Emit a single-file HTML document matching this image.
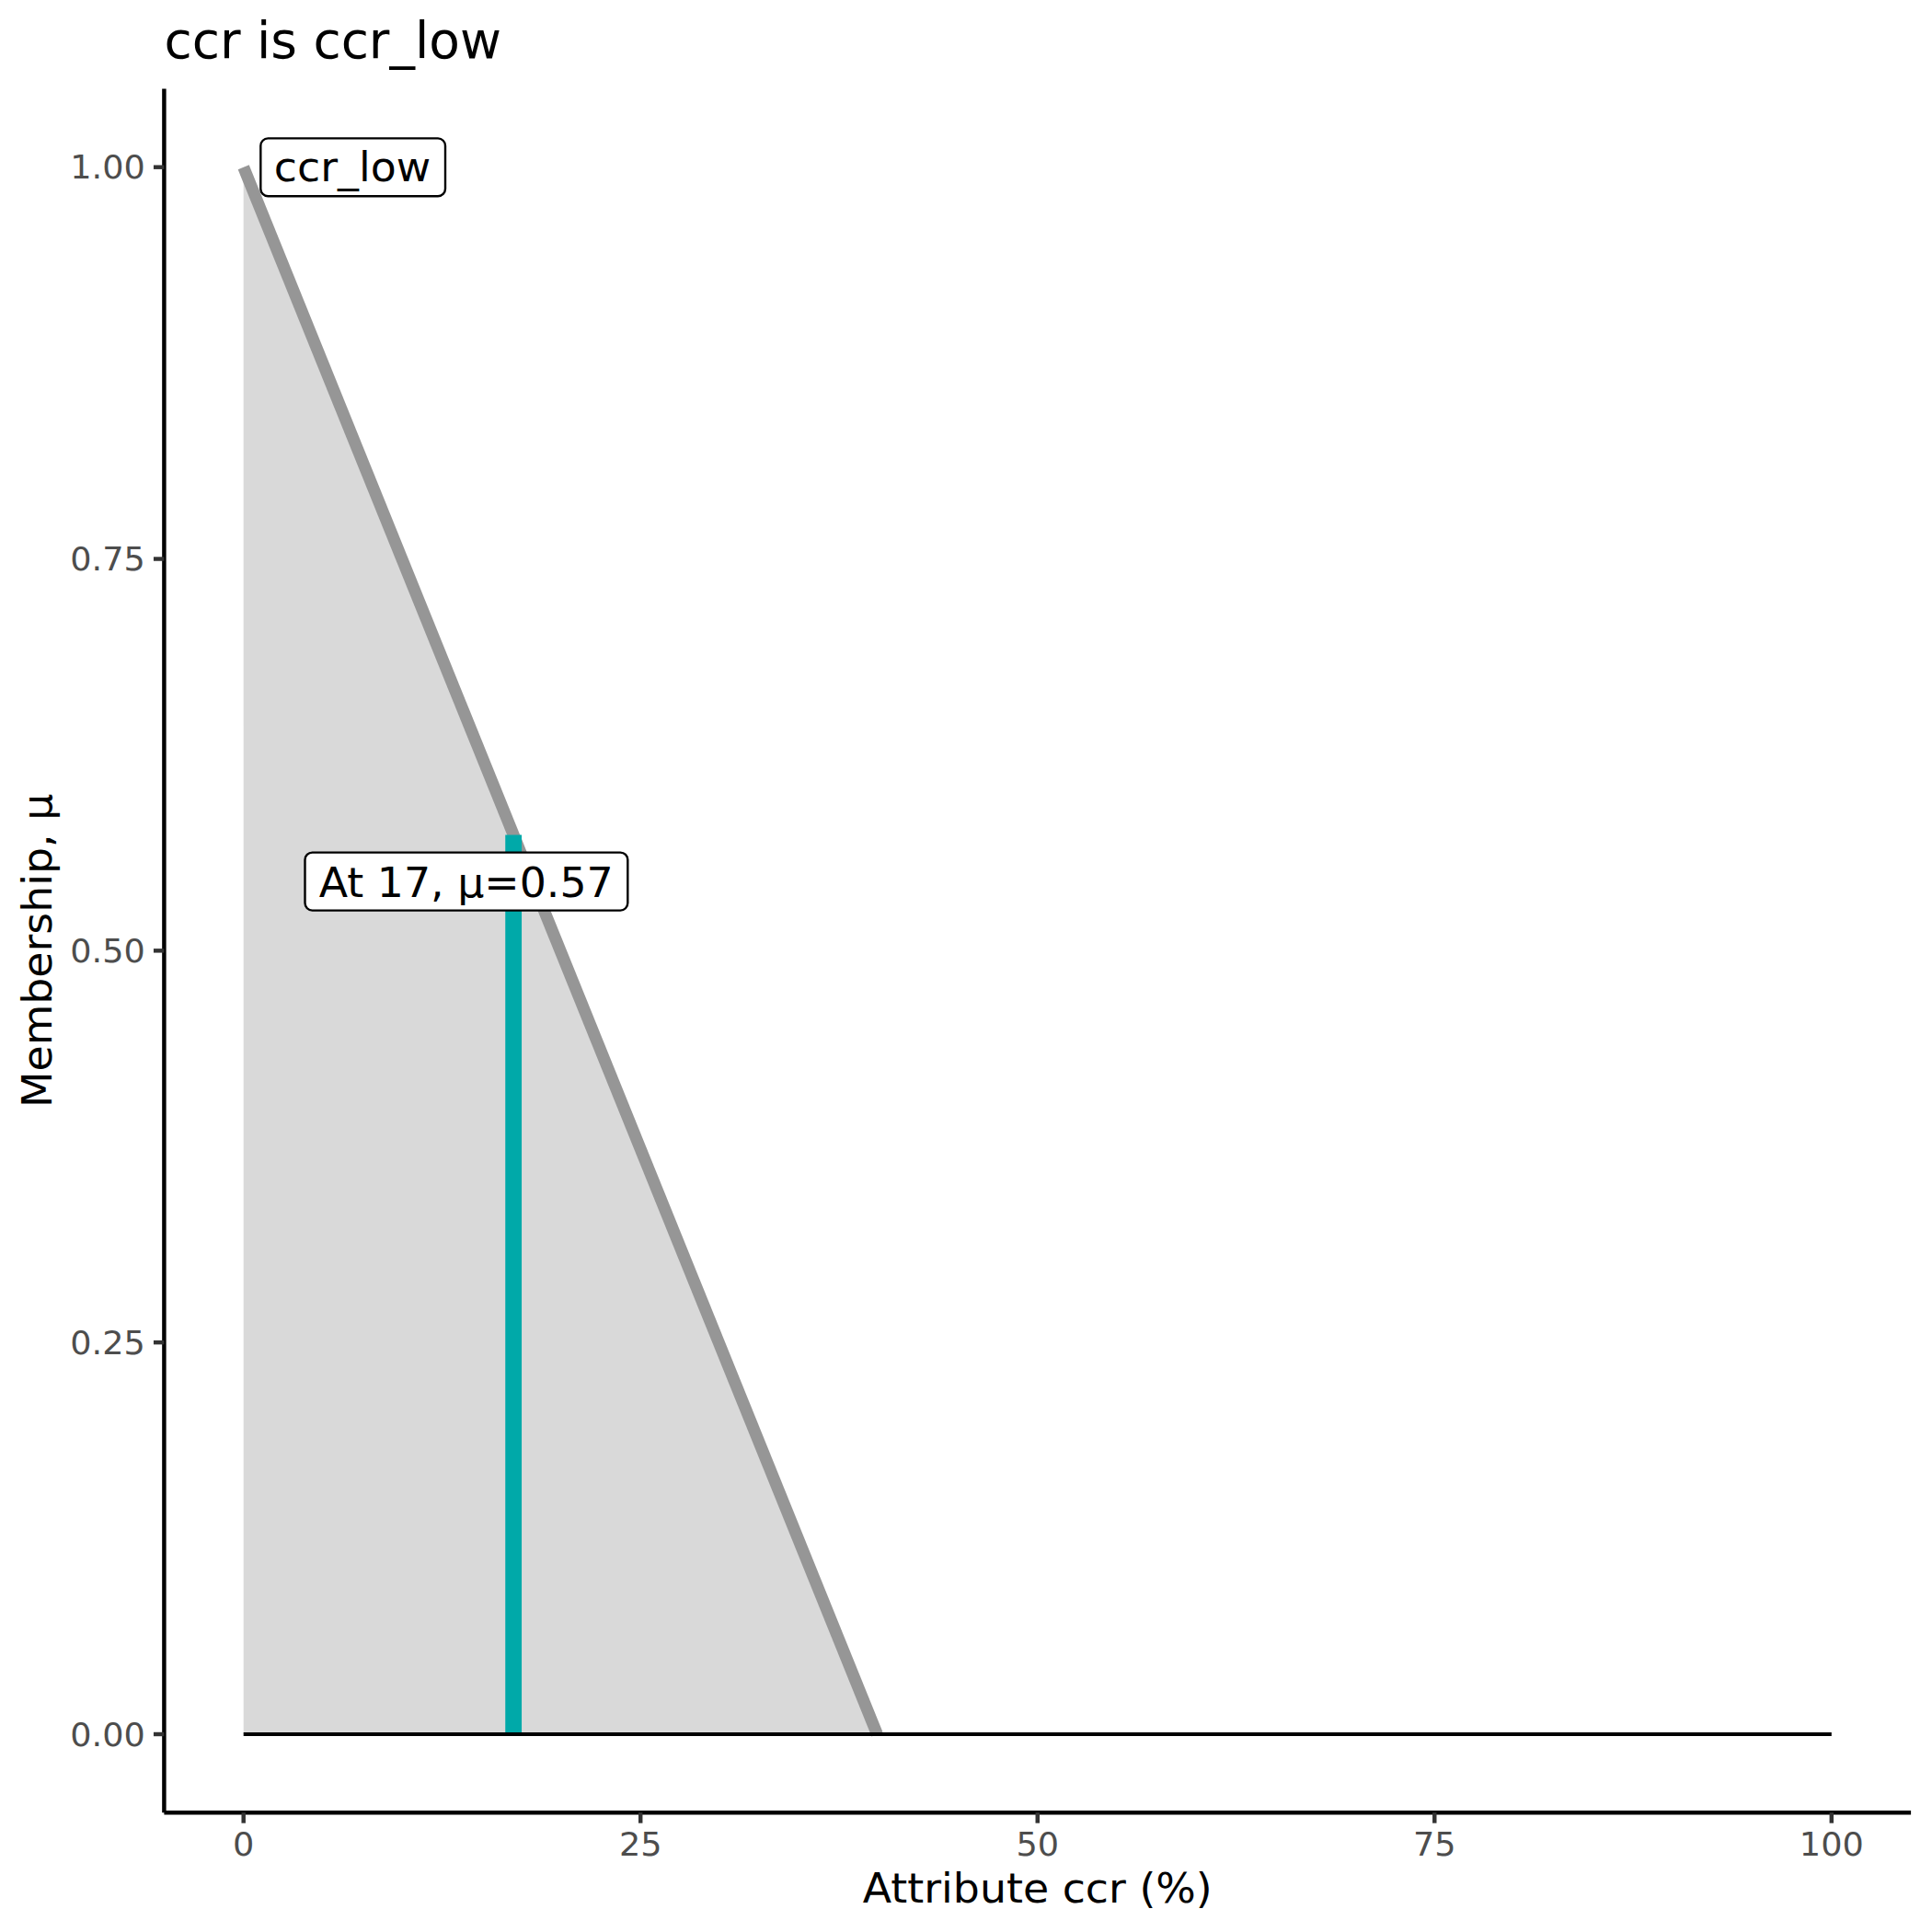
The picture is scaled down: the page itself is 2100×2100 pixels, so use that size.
<!DOCTYPE html>
<html lang="en"><head><meta charset="utf-8"><title>ccr is ccr_low</title>
<style>
html,body{margin:0;padding:0;background:#fff;}
body{width:2100px;height:2100px;overflow:hidden;}
svg{display:block;}
text{font-family:"DejaVu Sans","Liberation Sans",sans-serif;}
</style></head><body>
<svg width="2100" height="2100" viewBox="0 0 2100 2100">
<rect width="2100" height="2100" fill="#ffffff"/>
<!-- membership area -->
<polygon points="264.70,1885.00 264.70,181.70 953.41,1885.00" fill="#d9d9d9"/>
<!-- membership line -->
<line x1="264.70" y1="181.70" x2="953.41" y2="1885.00" stroke="#969696" stroke-width="13.0" stroke-linecap="butt"/>
<!-- value marker -->
<line x1="558.14" y1="1885.00" x2="558.14" y2="907.42" stroke="#00a9a9" stroke-width="17.8" stroke-linecap="butt"/>
<!-- zero baseline -->
<line x1="264.70" y1="1885.00" x2="1990.80" y2="1885.00" stroke="#000" stroke-width="4.2"/>
<!-- axes -->
<line x1="178.40" y1="96.50" x2="178.40" y2="1970.20" stroke="#000" stroke-width="4.45"/>
<line x1="178.40" y1="1970.20" x2="2077.10" y2="1970.20" stroke="#000" stroke-width="4.45"/>
<line x1="166.94" y1="1885.00" x2="178.40" y2="1885.00" stroke="#333" stroke-width="4.45"/>
<text transform="translate(157.80,1897.75) scale(1,0.947)" font-size="36.67" fill="#4d4d4d" text-anchor="end">0.00</text>
<line x1="166.94" y1="1459.17" x2="178.40" y2="1459.17" stroke="#333" stroke-width="4.45"/>
<text transform="translate(157.80,1471.92) scale(1,0.947)" font-size="36.67" fill="#4d4d4d" text-anchor="end">0.25</text>
<line x1="166.94" y1="1033.35" x2="178.40" y2="1033.35" stroke="#333" stroke-width="4.45"/>
<text transform="translate(157.80,1046.10) scale(1,0.947)" font-size="36.67" fill="#4d4d4d" text-anchor="end">0.50</text>
<line x1="166.94" y1="607.53" x2="178.40" y2="607.53" stroke="#333" stroke-width="4.45"/>
<text transform="translate(157.80,620.28) scale(1,0.947)" font-size="36.67" fill="#4d4d4d" text-anchor="end">0.75</text>
<line x1="166.94" y1="181.70" x2="178.40" y2="181.70" stroke="#333" stroke-width="4.45"/>
<text transform="translate(157.80,194.45) scale(1,0.947)" font-size="36.67" fill="#4d4d4d" text-anchor="end">1.00</text>
<line x1="264.70" y1="1970.20" x2="264.70" y2="1981.66" stroke="#333" stroke-width="4.45"/>
<text transform="translate(264.70,2017.00) scale(1,0.945)" font-size="36.67" fill="#4d4d4d" text-anchor="middle">0</text>
<line x1="696.22" y1="1970.20" x2="696.22" y2="1981.66" stroke="#333" stroke-width="4.45"/>
<text transform="translate(696.22,2017.00) scale(1,0.945)" font-size="36.67" fill="#4d4d4d" text-anchor="middle">25</text>
<line x1="1127.75" y1="1970.20" x2="1127.75" y2="1981.66" stroke="#333" stroke-width="4.45"/>
<text transform="translate(1127.75,2017.00) scale(1,0.945)" font-size="36.67" fill="#4d4d4d" text-anchor="middle">50</text>
<line x1="1559.28" y1="1970.20" x2="1559.28" y2="1981.66" stroke="#333" stroke-width="4.45"/>
<text transform="translate(1559.28,2017.00) scale(1,0.945)" font-size="36.67" fill="#4d4d4d" text-anchor="middle">75</text>
<line x1="1990.80" y1="1970.20" x2="1990.80" y2="1981.66" stroke="#333" stroke-width="4.45"/>
<text transform="translate(1990.80,2017.00) scale(1,0.945)" font-size="36.67" fill="#4d4d4d" text-anchor="middle">100</text>
<!-- titles -->
<text transform="translate(178.40,63.40)" font-size="55" fill="#000">ccr is ccr_low</text>
<text transform="translate(1127.75,2067.60) scale(1,0.97)" font-size="45.83" fill="#000" text-anchor="middle">Attribute ccr (%)</text>
<text transform="translate(55.90,1033.35) rotate(-90) scale(1,0.97)" font-size="45.83" fill="#000" text-anchor="middle">Membership, μ</text>
<!-- labels -->
<rect x="283.3" y="150.4" width="200.7" height="62.9" rx="8" ry="8" fill="#fff" stroke="#000" stroke-width="2.4"/>
<text transform="translate(297.80,196.70) scale(1,0.97)" font-size="45.83" fill="#000">ccr_low</text>
<rect x="331.5" y="926.6" width="350.8" height="63" rx="8" ry="8" fill="#fff" stroke="#000" stroke-width="2.4"/>
<text transform="translate(506.70,974.60) scale(1,0.97)" font-size="45.83" fill="#000" text-anchor="middle">At 17, μ=0.57</text>
</svg>
</body></html>
